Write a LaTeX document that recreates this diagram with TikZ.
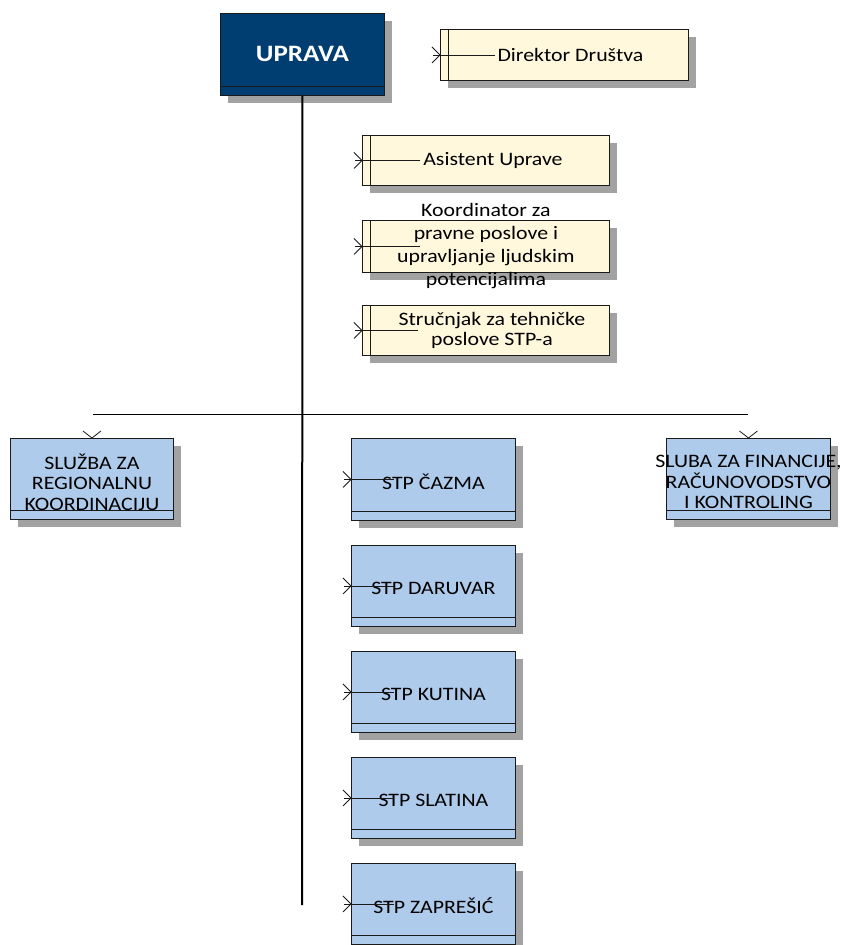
\documentclass[tikz,border=0pt]{standalone}
\usepackage{fontspec}
\setmainfont{Carlito}[FakeStretch=1.15]
\usetikzlibrary{shadows}
\definecolor{navy}{HTML}{003D71}
\definecolor{lightblue}{HTML}{AFCBEB}
\definecolor{cream}{HTML}{FFF8DC}
\definecolor{shadowgray}{HTML}{A2A2A2}
\definecolor{edge}{HTML}{1A1A1A}
\newcommand\chevstub[2]{%
  \draw[stubline] ([xshift=-8pt,yshift=8pt]#1.west) -- (#1.west) -- ([xshift=-8pt,yshift=-8pt]#1.west);
  \draw[stubline] ([xshift=-7pt]#1.west) -- ++(#2,0);}
\newcommand\downchev[1]{%
  \draw[stubline] ([xshift=-9pt,yshift=7pt]#1.north) -- (#1.north) -- ([xshift=9pt,yshift=7pt]#1.north);}
\begin{document}
\begin{tikzpicture}[x=1pt,y=-1pt,
  boxbase/.style={draw=edge, line width=0.9pt, inner sep=0pt, anchor=north west,
    drop shadow={shadow xshift=8pt, shadow yshift=-8pt, fill=shadowgray, opacity=1}},
  bandline/.style={path picture={\draw[edge, line width=0.9pt]
      ([yshift=9.5pt]path picture bounding box.south west) -- ([yshift=9.5pt]path picture bounding box.south east);}},
  bluebox/.style={boxbase, bandline, fill=lightblue, minimum width=164pt, minimum height=81pt},
  topbox/.style={boxbase, bandline, fill=navy, minimum width=164pt, minimum height=82pt},
  creambox/.style={boxbase, fill=cream, minimum width=247pt, minimum height=50pt,
    path picture={\draw[edge, line width=0.9pt]
      ([xshift=8pt]path picture bounding box.north west) -- ([xshift=8pt]path picture bounding box.south west);}},
  txt/.style={align=center, font=\fontsize{19}{20.5}\selectfont, inner sep=0pt},
  stubline/.style={draw=edge, line width=0.8pt},
  trunk/.style={draw=black, line width=2pt},
  branch/.style={draw=black, line width=0.9pt}
]
\useasboundingbox (0,0) rectangle (846,945);

% top
\node[topbox, label={[txt, text=white, font=\fontsize{23.5}{26}\selectfont\bfseries]center:UPRAVA}] (upr) at (220,13) {};

% staff positions
\node[creambox, minimum width=248pt, minimum height=51pt, label={[txt, xshift=6pt]center:Direktor Društva}] (dir) at (440,29) {};
\node[creambox, label={[txt, xshift=7pt]center:Asistent Uprave}] (asi) at (362,135) {};
\node[creambox, minimum height=52pt, label={[txt, font=\fontsize{19}{23}\selectfont]center:{Koordinator za\\pravne poslove i\\upravljanje ljudskim\\potencijalima}}] (koo) at (362,220) {};
\node[creambox, label={[txt, xshift=6pt]center:{Stručnjak za tehničke\\poslove STP-a}}] (str) at (362,305) {};

% departments
\node[bluebox, minimum width=163pt, label={[txt, yshift=-3pt]center:{SLUŽBA ZA\\REGIONALNU\\KOORDINACIJU}}] (slu) at (10,438) {};
\node[bluebox, label={[txt, yshift=-3pt]center:{SLUBA ZA FINANCIJE,\\RAČUNOVODSTVO\\I KONTROLING}}] (fin) at (666,438) {};

\node[bluebox, minimum height=82pt, label={[txt, yshift=-2pt]center:STP ČAZMA}] (caz) at (351,438) {};
\node[bluebox, label={[txt, yshift=-2pt]center:STP DARUVAR}] (dar) at (351,545) {};
\node[bluebox, label={[txt, yshift=-2pt]center:STP KUTINA}] (kut) at (351,651) {};
\node[bluebox, label={[txt, yshift=-2pt]center:STP SLATINA}] (sla) at (351,757) {};
\node[bluebox, label={[txt, yshift=-2pt]center:STP ZAPREŠIĆ}] (zap) at (351,863) {};

% connectors
\coordinate (vend) at (302,905);
\coordinate (hl) at (93,414);
\coordinate (hr) at (748,414);
\draw[trunk] (upr.south) -- (vend);
\draw[branch] (hl) -- (hr);
\downchev{slu}
\downchev{fin}

\chevstub{dir}{62}
\chevstub{asi}{65}
\chevstub{koo}{65}
\chevstub{str}{63}
\chevstub{caz}{50}
\chevstub{dar}{50}
\chevstub{kut}{50}
\chevstub{sla}{50}
\chevstub{zap}{50}
\end{tikzpicture}
\end{document}
